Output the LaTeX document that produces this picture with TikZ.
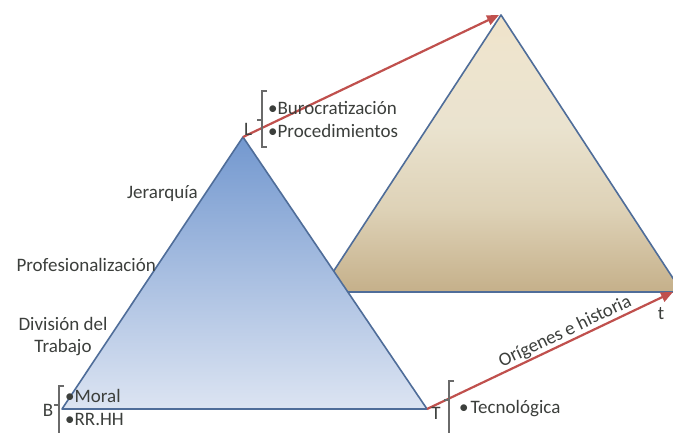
\documentclass[tikz,border=0pt]{standalone}
\usepackage{fontspec}
\setmainfont{Carlito}
\usetikzlibrary{arrows.meta}
\definecolor{txt}{HTML}{3C3F3C}
\definecolor{triedge}{HTML}{4F6D99}
\definecolor{arrowred}{HTML}{C0504D}
\definecolor{bluetop}{HTML}{7398CF}
\definecolor{bluebot}{HTML}{DCE4F2}
\definecolor{bracecol}{HTML}{6A6A6A}
\pgfdeclareverticalshading{tanshade}{100bp}{%
  color(0bp)=(rgb,255:red,197;green,176;blue,138);
  color(25bp)=(rgb,255:red,197;green,176;blue,138);
  color(40bp)=(rgb,255:red,222;green,210;blue,183);
  color(55bp)=(rgb,255:red,234;green,227;blue,207);
  color(68bp)=(rgb,255:red,238;green,228;blue,206);
  color(100bp)=(rgb,255:red,247;green,223;blue,182)}
\begin{document}
\begin{tikzpicture}[x=1pt,y=-1pt,
  lbl/.style={text=txt,font=\fontsize{19}{22}\selectfont,inner sep=0pt},
  bracepath/.style={draw=bracecol,line width=1.1pt},
  tri/.style={draw=triedge,line width=1.6pt,line join=round},
  redarrow/.style={draw=arrowred,line width=2.2pt,-{Triangle[length=12pt,width=10pt]}}]
\useasboundingbox (0,0) rectangle (673,432);
\fill[white] (0,0) rectangle (673,432);
% tan triangle (behind)
\coordinate (TA) at (501,15);
\coordinate (TL) at (320,292);
\coordinate (TR) at (682,292);
\shade[tri, shading=tanshade] (TA) -- (TR) -- (TL) -- cycle;
% blue triangle
\coordinate (BA) at (243,137);
\coordinate (BL) at (62,409);
\coordinate (BR) at (427,409);
\shade[tri, top color=bluetop, bottom color=bluebot] (BA) -- (BR) -- (BL) -- cycle;
% arrows
\coordinate (TAtip) at (499,15);
\coordinate (TRtip) at (673,292);
\draw[redarrow] (BA) -- (TAtip);
\draw[redarrow] (BR) -- node[lbl, above=1pt, sloped, pos=0.58] (orig) {Orígenes e historia} (TRtip);
\node[lbl] (t) at (661,314) {t};
% left labels
\node[lbl, anchor=east] (jer) at (198,194) {Jerarquía};
\node[lbl, anchor=east] (prof) at (156,265) {Profesionalización};
\node[lbl, align=center] (div) at (63,337) {División del\\Trabajo};
% L group
\node[lbl] (L) at (248,129) {L};
\coordinate (Lb1) at (267,91);
\coordinate (Lb2) at (267,147);
\draw[bracepath] (Lb1) -- (262,91) -- (262,147) -- (Lb2);
\draw[bracepath] (262,120) -- (257,120);
\node[lbl, anchor=west] (buro) at (268,108) {\textbullet Burocratización};
\node[lbl, anchor=west] (proc) at (268,131) {\textbullet Procedimientos};
% B group
\node[lbl] (B) at (48,410) {B};
\draw[bracepath] (64,386) -- (59,386) -- (59,434);
\draw[bracepath] (59,405) -- (54,405);
\node[lbl, anchor=west] (moral) at (65,396) {\textbullet Moral};
\node[lbl, anchor=west] (rrhh) at (65,419) {\textbullet RR.HH};
% T group
\node[lbl] (T) at (436,413) {T};
\draw[bracepath] (454,381) -- (449,381) -- (449,434);
\draw[bracepath] (449,400) -- (444,400);
\node[lbl, anchor=west] (tec) at (459,409) {\textbullet\hspace{2pt}Tecnológica};
\end{tikzpicture}
\end{document}
